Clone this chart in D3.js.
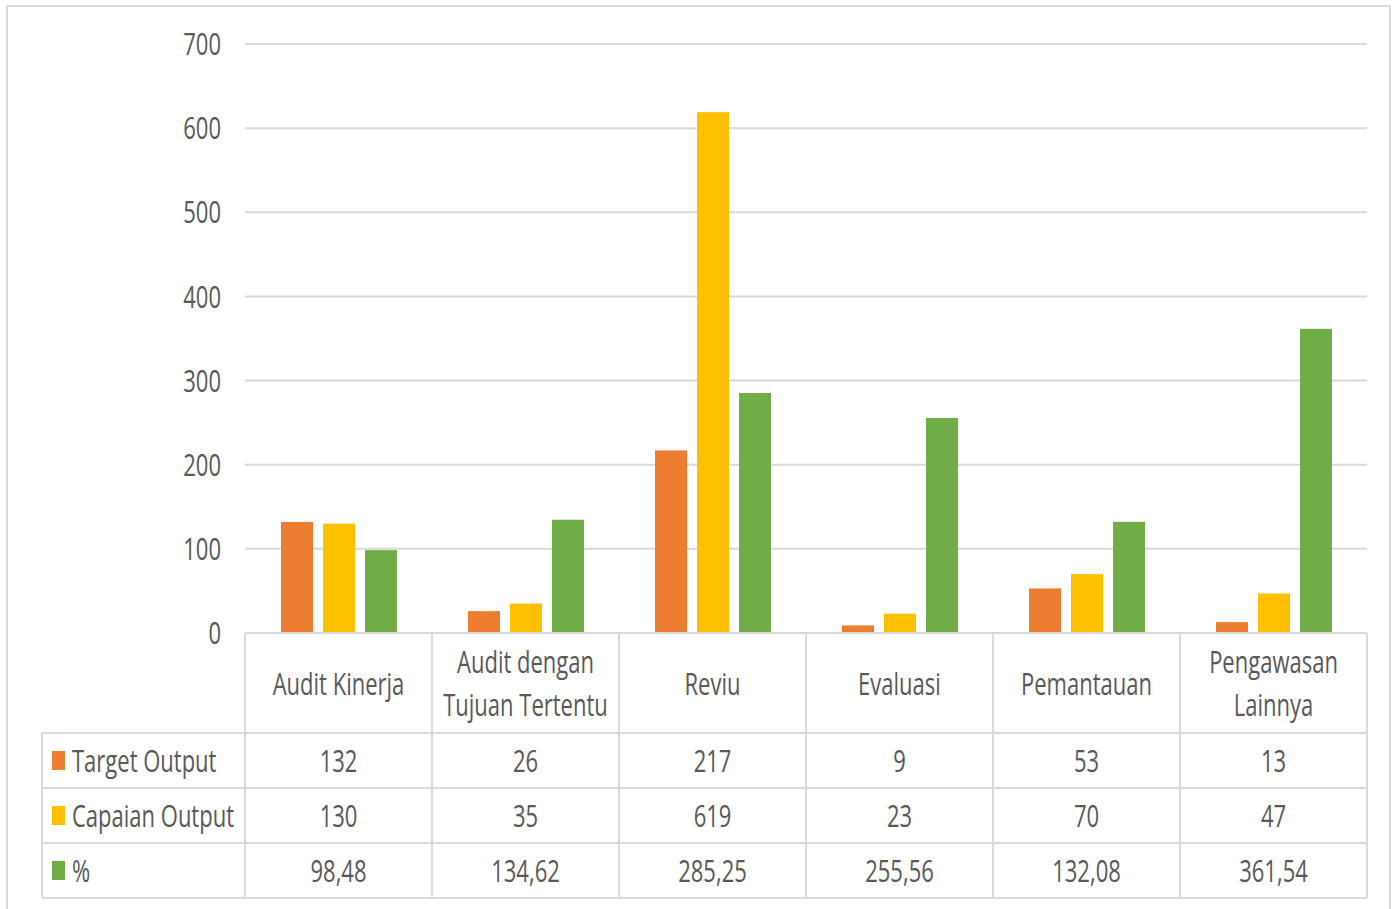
<!DOCTYPE html>
<html>
<head>
<meta charset="utf-8">
<script src="https://cdn.jsdelivr.net/npm/d3@7"></script>
<style>
  html, body { margin: 0; padding: 0; background: #fff; }
  svg { display: block; }
  text { font-family: "Open Sans", sans-serif; fill: #595959; }
</style>
</head>
<body>
<div id="chart"></div>
<script>
const categories = [
  ['Audit Kinerja'],
  ['Audit dengan', 'Tujuan Tertentu'],
  ['Reviu'],
  ['Evaluasi'],
  ['Pemantauan'],
  ['Pengawasan', 'Lainnya']
];
const seriesNames = ['Target Output', 'Capaian Output', '%'];
const targetOutput = [132, 26, 217, 9, 53, 13];
const capaianOutput = [130, 35, 619, 23, 70, 47];
const persen = [98.48, 134.62, 285.25, 255.56, 132.08, 361.54];
const persenLabels = ['98,48', '134,62', '285,25', '255,56', '132,08', '361,54'];
const yTicks = [0, 100, 200, 300, 400, 500, 600, 700];
const colors = ['#ED7D31', '#FFC000', '#70AD47'];

const W = 1393, H = 909;
const FS = 31, SX = 0.71;
const grid = '#d9d9d9';

const svg = d3.select('#chart').append('svg').attr('width', W).attr('height', H);

// outer chart border (bottom runs past the picture)
svg.append('rect').attr('x', 7).attr('y', 6).attr('width', 1383).attr('height', 920)
  .attr('fill', 'none').attr('stroke', grid).attr('stroke-width', 2);

const plotL = 245, plotR = 1367, plotT = 44, plotB = 633;
const x = d3.scaleBand().domain(d3.range(categories.length)).range([plotL, plotR]);
const xs = d3.scaleBand().domain(d3.range(3)).range([36, 152]).paddingInner(0.238);
const y = d3.scaleLinear().domain([0, 700]).range([plotB, plotT]);

function label(g, tx, ty, str, anchor) {
  g.append('text')
    .attr('transform', `translate(${tx},${ty}) scale(${SX},1)`)
    .attr('text-anchor', anchor || 'middle')
    .attr('dominant-baseline', 'central')
    .attr('font-size', FS)
    .text(str);
}

// gridlines
svg.append('g').selectAll('line').data(yTicks.slice(1)).join('line')
  .attr('x1', plotL).attr('x2', plotR)
  .attr('y1', d => y(d)).attr('y2', d => y(d))
  .attr('stroke', grid).attr('stroke-width', 2);

// y tick labels
const yl = svg.append('g');
yTicks.forEach(t => label(yl, 221, y(t) - 1, String(t), 'end'));

// bars
const series = [targetOutput, capaianOutput, persen];
const bars = svg.append('g');
series.forEach((vals, si) => {
  bars.selectAll(null).data(vals).join('rect')
    .attr('x', (d, i) => x(i) + xs(si))
    .attr('width', xs.bandwidth())
    .attr('y', d => y(d))
    .attr('height', d => plotB - y(d))
    .attr('fill', colors[si]);
});

// data table
const rowY = [plotB, 733, 788, 843, 898];
const tableL = 42;
const tb = svg.append('g').attr('stroke', grid).attr('stroke-width', 2);
tb.append('line').attr('x1', plotL).attr('x2', plotR).attr('y1', plotB).attr('y2', plotB);
rowY.slice(1).forEach(ry => tb.append('line').attr('x1', tableL).attr('x2', plotR).attr('y1', ry).attr('y2', ry));
d3.range(categories.length + 1).forEach(i => {
  const xx = i < categories.length ? x(i) : plotR;
  tb.append('line').attr('x1', xx).attr('x2', xx).attr('y1', plotB).attr('y2', rowY[4]);
});
tb.append('line').attr('x1', tableL).attr('x2', tableL).attr('y1', rowY[1]).attr('y2', rowY[4]);

const tt = svg.append('g');
categories.forEach((lines, i) => {
  const cx = x(i) + x.bandwidth() / 2;
  if (lines.length === 1) label(tt, cx, 683, lines[0]);
  else { label(tt, cx, 661, lines[0]); label(tt, cx, 704, lines[1]); }
});

const rowsTxt = [targetOutput.map(String), capaianOutput.map(String), persenLabels];
rowsTxt.forEach((vals, r) => {
  const cy = (rowY[r + 1] + rowY[r + 2]) / 2;
  vals.forEach((v, i) => label(tt, x(i) + x.bandwidth() / 2, cy - 1, v));
  tt.append('rect').attr('x', 52).attr('y', cy - 9.5).attr('width', 13).attr('height', 19).attr('fill', colors[r]);
  label(tt, 72, cy - 1, seriesNames[r], 'start');
});
</script>
</body>
</html>
